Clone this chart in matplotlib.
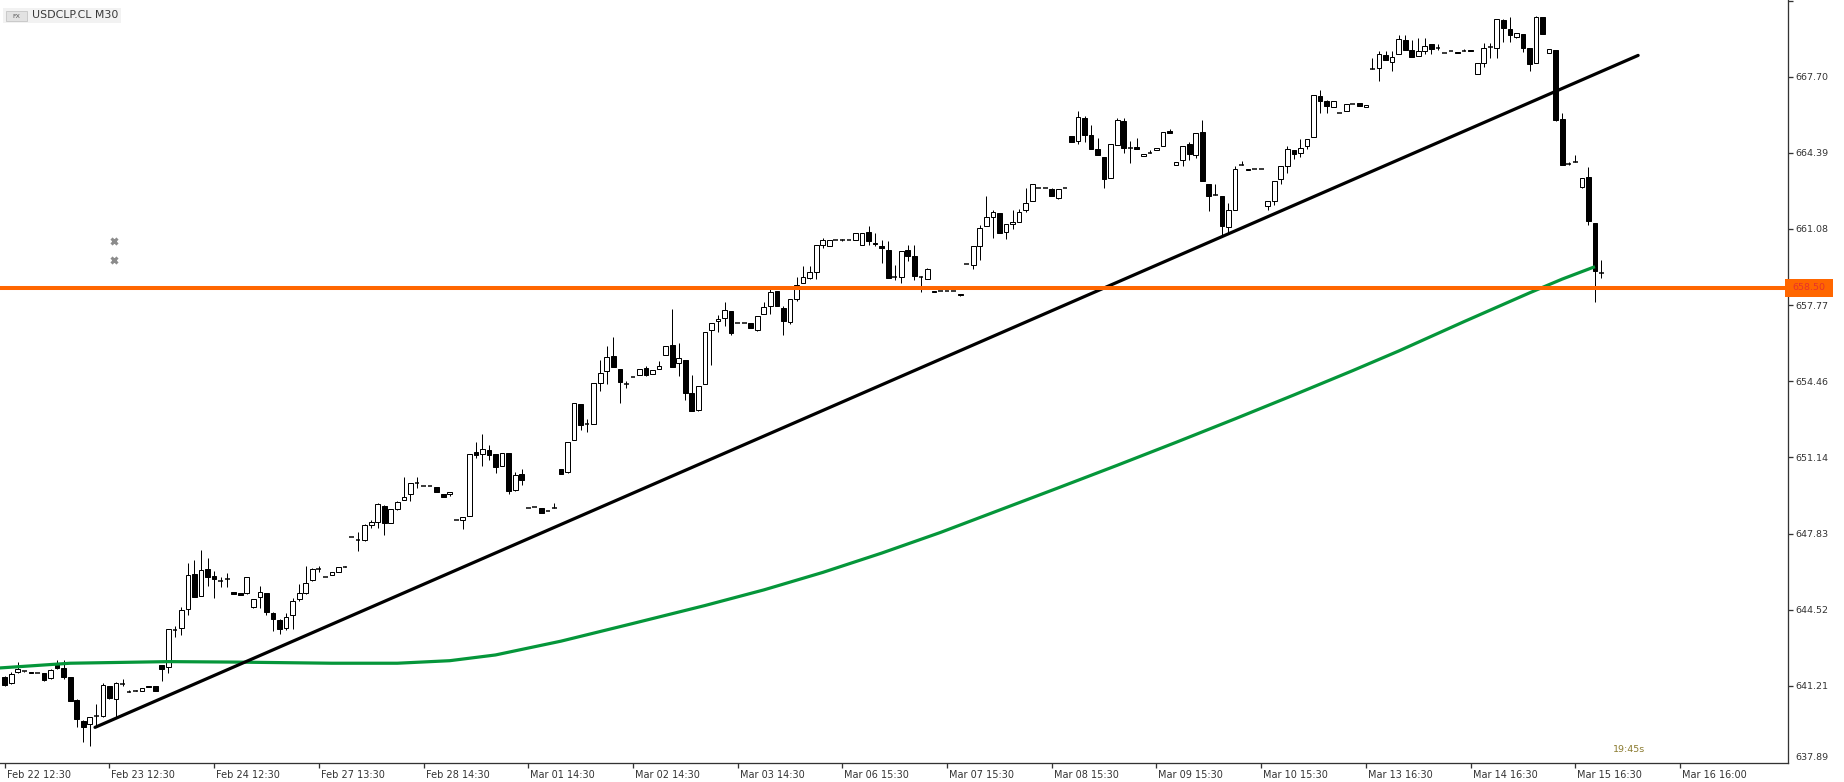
import numpy as np
import matplotlib.pyplot as plt
from matplotlib.patches import Rectangle
from matplotlib.transforms import ScaledTranslation

# USDCLP.CL M30 candles (bar 0 = Feb 22 12:30)
opens = [641.61, 641.32, 641.80, 641.85, 641.82, 641.75, 641.75, 641.53, 642.22, 641.97,
         641.59, 640.59, 639.67, 639.54, 639.90, 639.91, 641.19, 640.62, 641.29, 640.94,
         640.98, 641.00, 641.19, 641.19, 642.10, 642.01, 643.63, 643.71, 644.53, 646.05,
         645.13, 646.27, 645.98, 645.78, 645.84, 645.27, 645.24, 645.23, 644.62, 645.05,
         645.23, 644.37, 644.07, 643.71, 644.27, 644.97, 645.23, 645.79, 646.31, 645.94,
         646.01, 646.15, 646.36, 647.66, 647.57, 647.57, 648.22, 648.35, 649.05, 648.31,
         648.88, 649.31, 649.53, 650.03, 649.92, 649.92, 649.86, 649.57, 649.53, 648.41,
         648.40, 648.61, 651.36, 651.31, 651.48, 651.28, 650.79, 651.32, 649.73, 650.41,
         648.93, 648.97, 648.96, 648.83, 648.95, 650.66, 650.51, 651.91, 653.48, 652.58,
         652.61, 654.39, 654.91, 655.56, 655.00, 654.35, 654.65, 654.72, 655.03, 654.77,
         654.98, 655.61, 656.04, 655.26, 655.40, 653.96, 653.20, 654.35, 656.69, 657.08,
         657.19, 657.52, 657.00, 656.98, 656.97, 656.69, 657.39, 657.71, 658.40, 657.65,
         657.03, 658.04, 658.73, 658.95, 659.20, 660.39, 660.34, 660.60, 660.60, 660.60,
         660.60, 660.39, 660.94, 660.47, 660.36, 660.17, 659.01, 659.01, 660.17, 659.92,
         658.98, 658.91, 658.40, 658.36, 658.36, 658.36, 658.26, 659.56, 659.53, 660.36,
         661.23, 661.59, 661.78, 660.95, 661.30, 661.39, 661.89, 662.30, 662.86, 662.86,
         662.83, 662.41, 662.86, 665.12, 664.89, 665.90, 665.18, 664.56, 664.21, 663.28,
         664.73, 665.77, 664.59, 664.64, 664.25, 664.40, 664.51, 664.69, 665.35, 663.86,
         664.08, 664.77, 664.30, 665.31, 663.04, 662.56, 662.53, 661.15, 661.91, 663.86,
         663.69, 663.67, 663.69, 662.07, 662.28, 663.25, 663.82, 664.51, 664.38, 664.69,
         665.08, 666.86, 666.66, 666.40, 666.12, 666.22, 666.50, 666.55, 666.38, 668.05,
         668.08, 668.65, 668.36, 668.68, 669.31, 668.86, 668.60, 668.81, 669.13, 668.94,
         668.73, 668.83, 668.77, 668.83, 668.86, 667.83, 668.29, 669.00, 668.97, 670.16,
         669.77, 669.44, 669.55, 668.94, 668.28, 670.30, 668.73, 668.86, 665.86, 663.92,
         663.99, 662.89, 663.35, 661.36, 659.18]
highs = [641.65, 641.82, 642.26, 641.87, 641.83, 641.75, 641.78, 641.93, 642.32, 642.32,
         641.61, 640.62, 639.70, 639.87, 640.40, 641.35, 641.22, 641.36, 641.49, 641.01,
         641.04, 641.12, 641.19, 641.19, 642.13, 643.69, 643.82, 644.65, 646.53, 646.70,
         647.11, 646.76, 646.21, 645.95, 646.10, 645.27, 645.24, 645.95, 645.00, 645.57,
         645.26, 644.43, 644.10, 644.39, 645.01, 645.63, 646.41, 646.33, 646.41, 645.94,
         646.18, 646.39, 646.41, 647.66, 647.91, 648.24, 648.41, 649.17, 649.08, 648.91,
         649.25, 650.30, 650.04, 650.29, 649.92, 649.92, 649.86, 649.57, 649.66, 648.41,
         648.53, 651.31, 651.83, 652.15, 651.70, 651.31, 651.35, 651.32, 650.51, 650.63,
         648.93, 648.97, 648.96, 648.83, 649.15, 650.66, 651.83, 653.52, 653.48, 652.83,
         654.39, 655.40, 656.01, 656.40, 655.00, 654.45, 654.65, 654.98, 655.14, 654.93,
         655.32, 655.99, 657.61, 656.13, 655.40, 654.74, 654.26, 656.61, 657.00, 657.32,
         657.90, 657.52, 657.00, 656.98, 656.97, 657.30, 657.90, 658.55, 658.40, 657.75,
         658.04, 658.98, 659.49, 659.49, 660.39, 660.70, 660.60, 660.60, 660.65, 660.60,
         660.89, 660.92, 661.23, 660.91, 660.60, 660.57, 659.53, 660.13, 660.40, 660.40,
         659.05, 659.40, 658.40, 658.36, 658.36, 658.36, 658.26, 659.56, 660.36, 661.26,
         662.51, 661.92, 661.78, 661.28, 661.91, 661.95, 662.88, 663.02, 662.86, 662.86,
         662.86, 662.80, 662.86, 665.12, 666.22, 666.00, 665.61, 665.03, 664.21, 664.77,
         665.90, 665.90, 664.90, 665.05, 664.34, 664.51, 664.60, 665.28, 665.41, 663.99,
         664.67, 664.85, 665.25, 665.83, 663.04, 663.04, 662.53, 662.23, 663.83, 664.05,
         663.69, 663.67, 663.69, 662.30, 663.17, 663.82, 664.67, 664.51, 665.01, 665.01,
         666.90, 667.12, 666.70, 666.66, 666.12, 666.50, 666.50, 666.55, 666.47, 668.51,
         668.80, 668.80, 668.80, 669.51, 669.51, 669.29, 669.38, 669.38, 669.13, 669.14,
         668.73, 668.83, 668.77, 668.90, 668.86, 668.28, 669.15, 669.15, 670.20, 670.20,
         670.28, 669.60, 669.55, 668.94, 670.35, 670.30, 668.89, 668.86, 666.12, 663.98,
         664.30, 663.28, 663.79, 661.36, 659.71]
lows = [641.22, 641.30, 641.78, 641.83, 641.77, 641.75, 641.43, 641.52, 641.95, 641.49,
        640.55, 639.43, 638.78, 638.61, 639.43, 639.84, 640.64, 639.84, 641.20, 640.94,
        640.98, 640.99, 641.14, 640.97, 641.43, 641.78, 643.32, 643.42, 644.29, 645.07,
        645.11, 645.55, 645.04, 645.49, 645.52, 645.21, 645.14, 645.21, 644.58, 644.58,
        644.29, 643.61, 643.46, 643.63, 643.68, 644.91, 645.20, 645.78, 646.17, 645.94,
        646.01, 646.15, 646.36, 647.66, 647.08, 647.51, 648.09, 648.09, 647.75, 648.28,
        648.85, 649.30, 649.25, 649.83, 649.92, 649.92, 649.64, 649.42, 649.47, 648.41,
        648.01, 648.61, 651.13, 650.77, 651.05, 650.47, 650.79, 649.55, 649.67, 649.96,
        648.93, 648.97, 648.74, 648.83, 648.95, 650.44, 650.47, 651.91, 652.33, 652.25,
        652.61, 654.03, 654.33, 655.07, 653.51, 654.16, 654.65, 654.72, 654.68, 654.77,
        654.98, 655.61, 655.07, 654.67, 653.62, 653.16, 653.16, 654.35, 655.16, 656.59,
        656.85, 656.45, 657.00, 656.98, 656.77, 656.64, 657.39, 657.37, 657.74, 656.48,
        656.94, 657.95, 658.73, 658.91, 658.91, 660.24, 660.34, 660.60, 660.57, 660.60,
        660.60, 660.39, 660.37, 660.36, 659.58, 658.95, 658.88, 658.74, 659.69, 658.87,
        658.33, 658.91, 658.34, 658.36, 658.36, 658.36, 658.16, 659.56, 659.34, 659.74,
        661.21, 660.69, 660.89, 660.66, 661.08, 661.39, 661.81, 662.30, 662.86, 662.86,
        662.50, 662.37, 662.86, 664.85, 664.76, 664.85, 664.54, 664.30, 662.85, 663.28,
        664.73, 664.38, 663.93, 664.56, 664.25, 664.40, 664.51, 664.69, 665.25, 663.86,
        663.80, 664.09, 664.17, 663.15, 661.88, 662.56, 660.79, 660.89, 661.91, 663.86,
        663.65, 663.67, 663.69, 661.92, 662.12, 663.04, 663.50, 664.12, 664.19, 664.54,
        665.08, 666.11, 666.13, 666.40, 666.12, 666.22, 666.50, 666.44, 666.38, 668.05,
        667.50, 668.42, 667.97, 668.68, 668.86, 668.54, 668.60, 668.71, 668.68, 668.87,
        668.73, 668.83, 668.73, 668.83, 668.80, 667.83, 668.12, 668.51, 668.51, 669.23,
        669.23, 669.39, 668.77, 667.94, 668.28, 669.55, 668.73, 665.76, 663.85, 663.85,
        663.99, 662.86, 661.25, 657.92, 658.94]
closes = [641.26, 641.71, 641.94, 641.85, 641.78, 641.75, 641.45, 641.88, 641.97, 641.58,
          640.56, 639.75, 639.43, 639.84, 639.90, 641.24, 640.67, 641.32, 641.29, 640.94,
          640.98, 641.10, 641.14, 640.97, 641.95, 643.66, 643.63, 644.52, 646.01, 645.08,
          646.24, 645.95, 645.86, 645.78, 645.84, 645.21, 645.14, 645.92, 644.97, 645.27,
          644.44, 644.13, 643.68, 644.20, 644.88, 645.23, 645.70, 646.31, 646.31, 645.94,
          646.18, 646.39, 646.36, 647.66, 647.57, 648.22, 648.35, 649.12, 648.27, 648.88,
          649.22, 649.40, 650.01, 650.03, 649.92, 649.92, 649.64, 649.42, 649.66, 648.41,
          648.53, 651.31, 651.25, 651.52, 651.25, 650.73, 651.35, 649.68, 650.37, 650.18,
          648.93, 648.97, 648.74, 648.83, 648.95, 650.44, 651.83, 653.52, 652.55, 652.58,
          654.39, 654.83, 655.52, 655.07, 654.42, 654.35, 654.65, 654.98, 654.71, 654.93,
          655.13, 655.99, 655.07, 655.48, 653.94, 653.16, 654.26, 656.61, 657.00, 657.17,
          657.55, 656.55, 657.00, 656.98, 656.77, 657.30, 657.69, 658.34, 657.74, 657.07,
          658.04, 658.65, 658.97, 659.20, 660.39, 660.60, 660.60, 660.60, 660.60, 660.60,
          660.89, 660.92, 660.56, 660.42, 660.24, 658.95, 659.01, 660.13, 659.89, 659.03,
          658.98, 659.33, 658.34, 658.36, 658.36, 658.36, 658.22, 659.56, 660.36, 661.12,
          661.59, 661.82, 660.89, 661.28, 661.39, 661.82, 662.21, 663.02, 662.86, 662.86,
          662.50, 662.80, 662.86, 664.85, 665.95, 665.16, 664.54, 664.30, 663.24, 664.77,
          665.82, 664.59, 664.59, 664.56, 664.34, 664.40, 664.60, 665.28, 665.25, 663.99,
          664.67, 664.34, 665.25, 663.15, 662.50, 662.56, 661.20, 661.91, 663.69, 663.86,
          663.65, 663.67, 663.69, 662.30, 663.17, 663.82, 664.57, 664.32, 664.61, 665.01,
          666.90, 666.63, 666.41, 666.66, 666.12, 666.50, 666.50, 666.44, 666.47, 668.05,
          668.68, 668.42, 668.58, 669.33, 668.86, 668.54, 668.81, 669.02, 668.93, 668.94,
          668.73, 668.83, 668.73, 668.83, 668.80, 668.28, 668.97, 669.00, 670.20, 669.84,
          669.51, 669.60, 668.97, 668.25, 670.32, 669.58, 668.89, 665.83, 663.85, 663.92,
          663.99, 663.28, 661.41, 659.27, 659.18]

# green moving average, sampled at bar positions
ma_idx = [-1, 10, 25, 35, 50, 60, 68, 75, 85, 96, 107, 116, 125, 134, 143, 152,
          161, 170, 179, 188, 197, 206, 213, 223, 233, 238, 243]
ma_val = [641.98, 642.19, 642.26, 642.24, 642.19, 642.19, 642.30, 642.55, 643.15, 643.92,
          644.70, 645.38, 646.14, 646.98, 647.88, 648.85, 649.82, 650.80, 651.80, 652.82,
          653.86, 654.92, 655.77, 657.05, 658.30, 658.90, 659.44]

trend_idx = [13.8, 249.6]
trend_val = [639.40, 668.63]
level = 658.50

mark_idx = [16.7, 16.7]
mark_val = [660.56, 659.73]

price_ticks = [641.21, 644.52, 647.83, 651.14, 654.46, 657.77, 661.08, 664.39, 667.70]
time_labels = ['Feb 22 12:30', 'Feb 23 12:30', 'Feb 24 12:30', 'Feb 27 13:30', 'Feb 28 14:30',
               'Mar 01 14:30', 'Mar 02 14:30', 'Mar 03 14:30', 'Mar 06 15:30', 'Mar 07 15:30',
               'Mar 08 15:30', 'Mar 09 15:30', 'Mar 10 15:30', 'Mar 13 16:30', 'Mar 14 16:30',
               'Mar 15 16:30', 'Mar 16 16:00']

W, H = 1844, 782
fig = plt.figure(figsize=(W / 100, H / 100), dpi=100)
ax = fig.add_axes([0, 19 / H, 1788 / W, 763 / H])

o = np.array(opens); c = np.array(closes)
hi = np.array(highs); lo = np.array(lows)
x = np.arange(len(o))
px = 0.72  # one pixel in points

# wicks
ax.vlines(x, lo, hi, color='black', lw=px, zorder=3)
# bodies
up = c > o
dn = c < o
flat = c == o
bw = 0.72
ax.bar(x[up], (c - o)[up], bottom=o[up], width=bw, color='white', edgecolor='black',
       linewidth=px, zorder=4)
ax.bar(x[dn], (o - c)[dn], bottom=c[dn], width=bw, color='black', edgecolor='black',
       linewidth=px, zorder=4)
ax.hlines(o[flat], x[flat] - bw / 2, x[flat] + bw / 2, color='black', lw=px * 1.5, zorder=4)

# indicators / objects
ax.plot(ma_idx, ma_val, color='#05963a', lw=2.3, zorder=5, solid_capstyle='butt',
        solid_joinstyle='round')
ax.plot(trend_idx, trend_val, color='black', lw=2.3, zorder=5, solid_capstyle='round')
ax.axhline(level, color='#ff6600', lw=2.9, zorder=6)
ax.plot(mark_idx, mark_val, ls='none', marker='x', ms=5, mew=2.2, color='#8c8c8c', zorder=6)

ax.set_xlim(-0.72, 272.5)
ax.set_ylim(637.85, 671.04)

for s in ['top', 'left']:
    ax.spines[s].set_visible(False)
for s in ['right', 'bottom']:
    ax.spines[s].set_color('#333333')
    ax.spines[s].set_linewidth(px * 1.3)

ax.yaxis.tick_right()
ax.set_yticks(price_ticks + [671.01])
ax.set_yticklabels(['%.2f' % v for v in price_ticks] + [''])
ax.tick_params(axis='y', direction='out', length=3.6, width=px * 1.3, colors='#333333',
               labelsize=6.8, pad=1.5)

ax.set_xticks(np.arange(len(time_labels)) * 16)
ax.set_xticklabels(time_labels)
ax.tick_params(axis='x', direction='out', length=3.6, width=px * 1.3, colors='#333333',
               labelsize=7, pad=1.5)
shift = ScaledTranslation(2 / 100, 0, fig.dpi_scale_trans)
for lab in ax.get_xticklabels():
    lab.set_horizontalalignment('left')
    lab.set_transform(lab.get_transform() + shift)

# bottom price label sits just above the axis
fig.text(1795 / W, 1 - 758 / H, '637.89', fontsize=6.8, color='#333333', ha='left', va='center')

# current level tag on the price scale
fig.patches.append(Rectangle((1785 / W, 1 - 297 / H), 48 / W, 18 / H, transform=fig.transFigure,
                             facecolor='#ff6600', edgecolor='none'))
fig.text(1809 / W, 1 - 288 / H, '%.2f' % level, fontsize=6.8, color='#e8332a',
         ha='center', va='center')

# symbol caption
fig.patches.append(Rectangle((3 / W, 1 - 23 / H), 118 / W, 15 / H, transform=fig.transFigure,
                             facecolor='#f2f2f2', edgecolor='none'))
fig.patches.append(Rectangle((6 / W, 1 - 21 / H), 21 / W, 10 / H, transform=fig.transFigure,
                             facecolor='#e2e2e2', edgecolor='#c4c4c4', linewidth=0.6))
fig.text(16.5 / W, 1 - 16 / H, 'FX', fontsize=4.5, color='#555555', ha='center', va='center')
fig.text(32 / W, 1 - 15.5 / H, 'USDCLP.CL M30', fontsize=7.9, color='#3a3a3a',
         ha='left', va='center')

# bar timer
fig.text(1629 / W, 1 - 749 / H, '19:45s', fontsize=6.8, color='#8a7a2e', ha='center', va='center')

fig.savefig('out.png', dpi=100)
